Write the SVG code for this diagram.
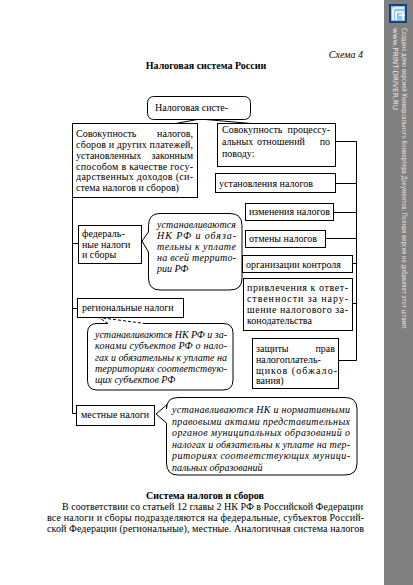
<svg xmlns="http://www.w3.org/2000/svg" width="413" height="585" viewBox="0 0 413 585">
<style>
.t{font-family:"Liberation Serif","Times New Roman",serif;font-size:10px;fill:#000}
.i{font-style:italic}
.b{font-weight:bold}
.e{text-anchor:end}
.m{text-anchor:middle}
.box{fill:#fff;stroke:#000;stroke-width:1}
.ln{fill:none;stroke:#000;stroke-width:1}
.side{font-family:"DejaVu Sans","Liberation Sans",sans-serif;font-size:7px;fill:#e6e6e6}
</style>
<rect x="0" y="0" width="413" height="585" fill="#fff"/>
<g id="sidebar">
<rect x="384" y="0" width="29" height="585" fill="#808080"/>
<rect x="389" y="4" width="18" height="19" fill="#1b3f7a"/>
<rect x="391" y="6" width="14" height="15" fill="#8fc3f0"/>
<path d="M393,20 V10 Q393,8 395,8 H404 M396,20 V12 H403 V20 M399,15 H405" fill="none" stroke="#fff" stroke-width="1.6"/>
<text class="side" transform="translate(402,28) rotate(90)" textLength="302" lengthAdjust="spacingAndGlyphs">Создано демо версией Универсального Конвертера Документов. Полная версия не добавляет этот штамп.</text>
<text class="side" transform="translate(393,28) rotate(90)" textLength="82" lengthAdjust="spacingAndGlyphs">www.PRINT-DRIVER.RU</text>
</g>
<g id="header">
<text class="t i e" x="363" y="58">Схема 4</text>
<text class="t b m" x="206" y="69">Налоговая система России</text>
</g>
<g id="connectors">
<line class="ln" x1="200" y1="119" x2="173" y2="124" stroke-width="2"/>
<line class="ln" x1="200" y1="119" x2="251" y2="123.5"/>
<polyline class="ln" points="72.5,198 72.5,413.5 76.5,413.5"/>
<line class="ln" x1="72.5" y1="243.5" x2="78.5" y2="243.5"/>
<line class="ln" x1="72.5" y1="308.5" x2="77.5" y2="308.5"/>
<polyline class="ln" points="335.5,141.5 356.5,141.5 356.5,360.5 338.5,360.5"/>
<line class="ln" x1="335.5" y1="183.5" x2="356.5" y2="183.5"/>
<line class="ln" x1="333.5" y1="212.5" x2="356.5" y2="212.5"/>
<line class="ln" x1="325.5" y1="238.5" x2="356.5" y2="238.5"/>
<line class="ln" x1="352.5" y1="263.5" x2="356.5" y2="263.5"/>
<line class="ln" x1="352.5" y1="303.5" x2="356.5" y2="303.5"/>
</g>
<g id="n-top">
<rect class="box" x="147.5" y="96.5" width="103" height="23" rx="6"/>
<text class="t" x="155" y="110.5">Налоговая систе-</text>
</g>
<g id="n-sovokupnost-nalogov">
<rect class="box" x="72.5" y="123.5" width="125" height="74"/>
<text class="t" x="76" y="137">Совокупность</text>
<text class="t e" x="193" y="137">налогов,</text>
<text class="t" x="76" y="148" textLength="117" lengthAdjust="spacing">сборов и других платежей,</text>
<text class="t" x="76" y="158.5">установленных</text>
<text class="t e" x="193" y="158.5">законным</text>
<text class="t" x="76" y="169.5" textLength="117" lengthAdjust="spacing">способом в качестве госу-</text>
<text class="t" x="76" y="180" textLength="117" lengthAdjust="spacing">дарственных доходов (си-</text>
<text class="t" x="76" y="191">стема налогов и сборов)</text>
</g>
<g id="n-sovokupnost-otnosheniy">
<rect class="box" x="217.5" y="123.5" width="118" height="43"/>
<text class="t" x="222" y="133">Совокупность</text>
<text class="t e" x="330" y="133">процессу-</text>
<text class="t" x="222" y="145">альных</text>
<text class="t m" x="281" y="145">отношений</text>
<text class="t e" x="330" y="145">по</text>
<text class="t" x="222" y="157">поводу:</text>
</g>
<g id="n-ustanovlenie">
<rect class="box" x="215.5" y="173.5" width="120" height="19"/>
<text class="t" x="219" y="187">установления налогов</text>
</g>
<g id="n-izmenenie">
<rect class="box" x="245.5" y="203.5" width="88" height="17"/>
<text class="t" x="249" y="215">изменения налогов</text>
</g>
<g id="n-otmena">
<rect class="box" x="245.5" y="230.5" width="80" height="17"/>
<text class="t" x="249" y="242">отмены налогов</text>
</g>
<g id="n-kontrol">
<rect class="box" x="242.5" y="255.5" width="110" height="17"/>
<text class="t" x="246" y="268">организации контроля</text>
</g>
<g id="n-otvetstvennost">
<rect class="box" x="243.5" y="278.5" width="109" height="52"/>
<text class="t" x="247" y="291" textLength="101" lengthAdjust="spacing">привлечения к ответ-</text>
<text class="t" x="247" y="302" textLength="101" lengthAdjust="spacing">ственности за нару-</text>
<text class="t" x="247" y="313" textLength="101" lengthAdjust="spacing">шение налогового за-</text>
<text class="t" x="247" y="323.5">конодательства</text>
</g>
<g id="n-zashchita">
<rect class="box" x="252.5" y="338.5" width="86" height="50"/>
<text class="t" x="256" y="352">защиты</text>
<text class="t e" x="335" y="352">прав</text>
<text class="t" x="256" y="363">налогоплатель-</text>
<text class="t" x="256" y="373.5" textLength="81" lengthAdjust="spacing">щиков (обжало-</text>
<text class="t" x="256" y="384">вания)</text>
</g>
<g id="n-federal">
<rect class="box" x="78.5" y="225.5" width="63" height="38"/>
<text class="t" x="82" y="237">федераль-</text>
<text class="t" x="82" y="247.5">ные налоги</text>
<text class="t" x="82" y="258">и сборы</text>
</g>
<g id="c-federal">
<path class="box" d="M160,213.5 H230 Q242,213.5 242,225.5 V278 Q242,290 230,290 H160 Q148.5,290 148.5,278 V252 L142,241 L148.5,232 V225.5 Q148.5,213.5 160,213.5 Z"/>
<text class="t i" x="157" y="228" textLength="79" lengthAdjust="spacing">устанавливаются</text>
<text class="t i" x="157" y="239" textLength="79" lengthAdjust="spacing">НК РФ и обяза-</text>
<text class="t i" x="157" y="250" textLength="79" lengthAdjust="spacing">тельны к уплате</text>
<text class="t i" x="157" y="261" textLength="79" lengthAdjust="spacing">на всей террито-</text>
<text class="t i" x="157" y="272">рии РФ</text>
</g>
<g id="n-regional">
<rect class="box" x="77.5" y="298.5" width="106" height="19"/>
<text class="t" x="82" y="311">региональные налоги</text>
</g>
<g id="c-regional">
<path class="box" d="M108,323.5 H97 Q87.5,323.5 87.5,333 V380 Q87.5,390 97,390 H223 Q233,390 233,380 V333 Q233,323.5 223,323.5 H145"/>
<path class="ln" d="M108,323.5 L99,317.5 L145,323.5" stroke-dasharray="3,2"/>
<text class="t i" x="95" y="338" textLength="132" lengthAdjust="spacing">устанавливаются НК РФ и за-</text>
<text class="t i" x="95" y="349" textLength="132" lengthAdjust="spacing">конами субъектов РФ о нало-</text>
<text class="t i" x="95" y="360.5" textLength="132" lengthAdjust="spacing">гах и обязательны к уплате на</text>
<text class="t i" x="95" y="371.5" textLength="132" lengthAdjust="spacing">территориях соответствую-</text>
<text class="t i" x="95" y="383">щих субъектов РФ</text>
</g>
<g id="n-mestnye">
<rect class="box" x="76.5" y="405.5" width="78" height="20"/>
<text class="t" x="81" y="418">местные налоги</text>
</g>
<g id="c-mestnye">
<path class="box" d="M178,397.5 H345 Q357,397.5 357,409 V463 Q357,475 345,475 H178 Q166.5,475 166.5,463 V423 L156,414 L166.5,405 V409 Q166.5,397.5 178,397.5 Z"/>
<text class="t i" x="172" y="413" textLength="178" lengthAdjust="spacing">устанавливаются НК и нормативными</text>
<text class="t i" x="172" y="424.5" textLength="178" lengthAdjust="spacing">правовыми актами представительных</text>
<text class="t i" x="172" y="436" textLength="178" lengthAdjust="spacing">органов муниципальных образований о</text>
<text class="t i" x="172" y="447.5" textLength="178" lengthAdjust="spacing">налогах и обязательны к уплате на тер-</text>
<text class="t i" x="172" y="459" textLength="178" lengthAdjust="spacing">риториях соответствующих муници-</text>
<text class="t i" x="172" y="470.5">пальных образований</text>
</g>
<g id="body-text">
<text class="t b m" x="205" y="499">Система налогов и сборов</text>
<text class="t" x="62" y="510" textLength="301" lengthAdjust="spacing">В соответствии со статьей 12 главы 2 НК РФ в Российской Федерации</text>
<text class="t" x="47" y="521" textLength="317" lengthAdjust="spacing">все налоги и сборы подразделяются на федеральные, субъектов Россий-</text>
<text class="t" x="47" y="532" textLength="317" lengthAdjust="spacing">ской Федерации (региональные), местные. Аналогичная система налогов</text>
</g>
</svg>
